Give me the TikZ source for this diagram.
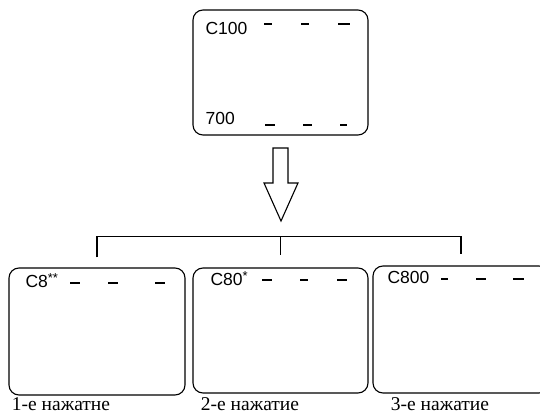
\documentclass[tikz,border=0pt]{standalone}
\usepackage{fontspec}
\setmainfont{Liberation Serif}
\setsansfont{Liberation Sans}
\usetikzlibrary{calc,positioning}
\tikzset{
  screen/.style={draw,rounded corners=10pt,minimum width=175pt,minimum height=125pt,inner sep=0pt},
  readout/.style={font=\sffamily\fontsize{17.5}{17.5}\selectfont,anchor=base west,inner sep=0pt},
  caption/.style={font=\fontsize{19.5}{19.5}\selectfont,anchor=base,inner sep=0pt}
}
\newcommand{\stars}[1]{\raisebox{5pt}{\fontsize{13}{13}\selectfont #1}}

\begin{document}
\begin{tikzpicture}[x=1pt,y=1pt,line width=1.1pt]
\useasboundingbox (0,0) rectangle (540,417);
\clip (0,0) rectangle (540,417);
% screens
\node[screen] (top) at (280.5,344.5) {};
\node[screen,minimum width=176pt,minimum height=127pt] (s1) at (97,85.5) {};
\node[screen] (s2) at (280.5,86.5) {};
\node[screen,minimum width=176pt,minimum height=127pt] (s3) at (461,87.5) {};
% readouts
\node[readout] (t100) at (205,382) {C100};
\node[readout] (t700) at (205,292) {700};
\node[readout] (t8) at (25,129) {C8\stars{**}};
\node[readout] (t80) at (210,131) {C80\stars{*}};
\node[readout] (t800) at (387,133) {C800};
\foreach \x/\y/\w in {264/393/8,301/393/8,338/393/12,265/292/10,303/292/9,340/292/7,
  70/134/10,108/134/10,155/134/10,262/137/10,300/137/8,337/137/10,
  441/138/7,476/138/10,513/138/11}
  \draw (\x,\y) -- ++(\w,0);
% arrow
\draw (273,269) -- (288,269) -- (288,234) -- (298,234) -- (281,196) -- (264,234) -- (273,234) -- cycle;
% branches
\draw ([yshift=10pt]s1.north) |- ([yshift=31pt]s2.north) -| ([yshift=11pt]s3.north);
\draw ([yshift=31pt]s2.north) -- ([yshift=12pt]s2.north);
% captions
\node[caption] (c1) at (61,6) {1-е нажатне};
\node[caption] (c2) at (250,6) {2-е нажатие};
\node[caption] (c3) at (440,6) {3-е нажатие};
\end{tikzpicture}
\end{document}
